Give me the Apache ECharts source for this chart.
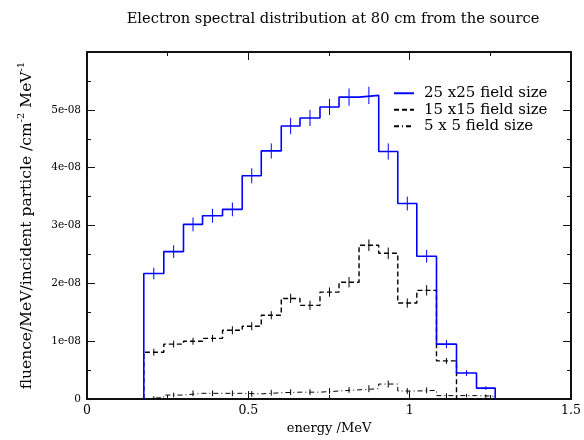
<!DOCTYPE html>
<html><head><meta charset="utf-8">
<script src="https://cdn.jsdelivr.net/npm/echarts@6/dist/echarts.min.js"></script>
<style>html,body{margin:0;padding:0;background:#fff}#c{width:584px;height:440px}</style>
</head><body><div id="c"></div>
<script>
// Bin edges (MeV)
const binEdges = [0.176,0.238,0.299,0.358,0.420,0.481,0.540,0.602,0.660,0.722,0.781,0.843,0.904,0.963,1.022,1.083,1.145,1.207,1.265];
// Fluence values in units of 1e-8 /MeV/incident particle/cm^2
const field25 = [2.17,2.55,3.02,3.17,3.28,3.86,4.29,4.72,4.86,5.05,5.22,5.25,4.28,3.38,2.47,0.95,0.45,0.19];
const field25Err = [0.10,0.11,0.12,0.12,0.12,0.13,0.13,0.14,0.14,0.14,0.15,0.15,0.14,0.12,0.11,0.07,0.05,0.03];
const field15 = [0.81,0.95,1.00,1.05,1.19,1.26,1.45,1.74,1.62,1.85,2.02,2.66,2.52,1.66,1.88,0.66,0,0];
const field15Err = [0.06,0.06,0.06,0.06,0.07,0.07,0.07,0.08,0.08,0.08,0.09,0.10,0.10,0.08,0.09,0.05,0,0];
const field5 = [0.03,0.07,0.10,0.10,0.10,0.09,0.11,0.12,0.12,0.14,0.16,0.18,0.26,0.14,0.15,0.06,0.06,0.05];
const field5Err = [0.02,0.04,0.05,0.05,0.05,0.05,0.05,0.05,0.05,0.05,0.05,0.06,0.06,0.05,0.05,0.04,0.03,0.03];
const seriesNames = ['25 x25 field size','15 x15 field size','5 x 5 field size'];
const xTickLabels = ['0','0.5','1','1.5'];
const yTickLabels = ['0','1e-08','2e-08','3e-08','4e-08','5e-08'];

const FONT = 'DejaVu Serif';
function stepPoints(vals){
  const p = [[binEdges[0],0]];
  for (let i=0;i<vals.length;i++){ p.push([binEdges[i],vals[i]],[binEdges[i+1],vals[i]]); }
  p.push([binEdges[vals.length],0]);
  return p;
}
function errData(vals, errs){
  return vals.map((v,i)=>[(binEdges[i]+binEdges[i+1])/2, v, errs[i]]);
}
function errSeries(vals, errs, color){
  return {
    type:'custom', xAxisIndex:0, yAxisIndex:0, silent:true, z:3,
    data: errData(vals, errs),
    renderItem: function(params, api){
      const c=api.value(0), v=api.value(1), e=api.value(2);
      if (!e) return null;
      const p1=api.coord([c,v+e]), p2=api.coord([c,v-e]);
      return {type:'line', shape:{x1:p1[0],y1:p1[1],x2:p2[0],y2:p2[1]}, style:{stroke:color,lineWidth:1}};
    }
  };
}
const axisCol = '#111';
function ticks(){
  return {
    axisLine:{show:true, onZero:false, lineStyle:{color:axisCol,width:2}},
    axisTick:{show:true, inside:true, length:8, lineStyle:{color:axisCol,width:1}},
    minorTick:{show:true, splitNumber:2, length:4, lineStyle:{color:axisCol,width:1}},
    splitLine:{show:false}
  };
}
const chart = echarts.init(document.getElementById('c'));
chart.setOption({
  animation:false,
  backgroundColor:'#fff',
  title:{text:'Electron spectral distribution at 80 cm from the source', left:328, top:7, textAlign:'center',
    textStyle:{fontFamily:FONT, fontSize:14.7, fontWeight:'normal', color:'#000'}},
  grid:{left:87, right:11, top:52, bottom:39, containLabel:false},
  legend:{
    data:seriesNames.map(n=>({name:n, itemStyle:{opacity:0}})),
    orient:'vertical', left:388, top:80, itemWidth:20, itemHeight:10, itemGap:0,
    textStyle:{fontFamily:FONT, fontSize:15, lineHeight:16.5, color:'#000', padding:[0,0,0,5]}
  },
  xAxis:[
    Object.assign({type:'value', min:0, max:1.5, interval:0.5, position:'bottom',
      name:'energy /MeV', nameLocation:'middle', nameGap:20,
      nameTextStyle:{fontFamily:FONT, fontSize:13, color:'#000'},
      axisLabel:{margin:5, fontFamily:FONT, fontSize:12.5, color:'#000',
        formatter:(v)=>xTickLabels[Math.round(v/0.5)]}}, ticks()),
    Object.assign({type:'value', min:0, max:1.5, interval:0.5, position:'top', axisLabel:{show:false}}, ticks())
  ],
  yAxis:[
    Object.assign({type:'value', min:0, max:6, interval:1, position:'left',
      name:'{a|fluence/MeV/incident particle /cm}{s|-2}{a| MeV}{s|-1}', nameLocation:'middle', nameGap:49, nameRotate:90,
      nameTextStyle:{fontFamily:FONT, fontSize:15.5, color:'#000', padding:[0,0,0,0],
        rich:{a:{fontFamily:FONT,fontSize:15.5,color:'#000',lineHeight:22}, s:{fontFamily:FONT,fontSize:10,color:'#000',lineHeight:12,verticalAlign:'top'}}},
      axisLabel:{margin:6, fontFamily:FONT, fontSize:10.5, color:'#000', showMaxLabel:false,
        formatter:(v)=>{const k=Math.round(v); return k<yTickLabels.length?yTickLabels[k]:'';}}}, ticks()),
    Object.assign({type:'value', min:0, max:6, interval:1, position:'right', axisLabel:{show:false}}, ticks())
  ],
  series:[
    {name:seriesNames[0], type:'line', data:stepPoints(field25), symbol:'none', z:4,
      lineStyle:{color:'#0000ff', width:1.6}, itemStyle:{color:'#0000ff'}},
    {name:seriesNames[1], type:'line', data:stepPoints(field15), symbol:'none', z:3,
      lineStyle:{color:'#000', width:1.4, type:[5,3]}, itemStyle:{color:'#000'}},
    {name:seriesNames[2], type:'line', data:stepPoints(field5), symbol:'none', z:2,
      lineStyle:{color:'#000', width:1, type:[5,3,1,3]}, itemStyle:{color:'#000'}},
    errSeries(field25, field25Err, '#0000ff'),
    errSeries(field15, field15Err, '#000'),
    errSeries(field5, field5Err, '#000')
  ]
});
</script></body></html>
